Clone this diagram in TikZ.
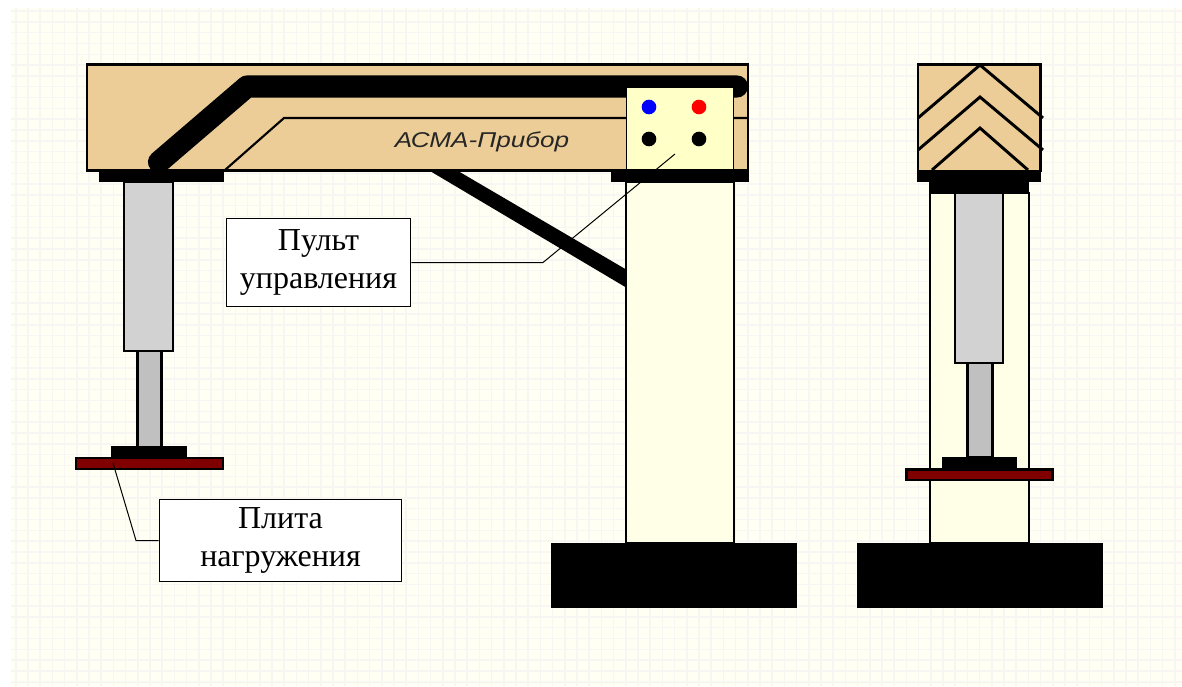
\documentclass[tikz,border=0pt]{standalone}
\usepackage{fontspec}
\setmainfont{Liberation Serif}
\newfontfamily\brandfont{Liberation Sans}
\definecolor{paper}{HTML}{FFFFF3}
\definecolor{gridc}{HTML}{F7F6F2}
\definecolor{wood}{HTML}{EDCD97}
\definecolor{cream}{HTML}{FFFFE8}
\definecolor{panelc}{HTML}{FFFFC8}
\definecolor{steel}{HTML}{D2D2D2}
\definecolor{rodc}{HTML}{C0C0C0}
\definecolor{plate}{HTML}{800000}
\tikzset{
  x=0.75pt,y=-0.75pt,
  part/.style={draw=black,line width=1.8pt,line join=miter},
  solid black/.style={fill=black},
  chevron/.style={draw=black,line width=2.2pt},
  callout/.style={draw=black,fill=white,line width=0.75pt,align=center,inner sep=0pt,
     font=\fontsize{24}{28.5}\selectfont},
  leader/.style={draw=black,line width=0.75pt},
  lamp/.style={circle,minimum size=11pt,inner sep=0pt}
}
\begin{document}
\begin{tikzpicture}
\useasboundingbox (0,0) rectangle (1182,686);
\fill[paper] (11,8) rectangle (1182,686);
\foreach \k in {0,...,95}{\draw[gridc,line width=1.1pt] ({15.8+12.2*\k},8) -- ({15.8+12.2*\k},686);}
\foreach \k in {0,...,62}{\draw[gridc,line width=1.1pt] (11,{11+10.82*\k}) -- (1182,{11+10.82*\k});}
% front view
\fill[black] (430,171) -- (458,171) -- (627,270) -- (627,288) -- cycle;
\draw[part,fill=cream] (626,182) rectangle (734,543);
\draw[part,fill=wood] (87,64.5) rectangle (748,170.5);
\begin{scope}
\clip (87,64) rectangle (748,170.5);
\draw[black,line width=16.6pt,line cap=round,line join=round] (159,162) -- (247,86.5) -- (737,86.5);
\end{scope}
\draw[black,line width=1.6pt] (225,170) -- (284,118) -- (748,118);
\draw[part,fill=panelc,line width=1.2pt] (626.5,87) rectangle (733.5,169.5);
\node[lamp,fill=blue] (l1) at (649,107) {};
\node[lamp,fill=red] (l2) at (699,107) {};
\node[lamp,fill=black] (l3) at (649,139) {};
\node[lamp,fill=black] (l4) at (699,139) {};
\node[font=\brandfont\itshape\fontsize{19.6}{21}\selectfont,text=black!85,inner sep=0pt] (brand) at (482,142) {\scalebox{1}[0.82]{АСМА-Прибор}};
\fill[solid black] (99,170) rectangle (224,182);
\fill[solid black] (611,170) rectangle (749,182);
\draw[part,fill=steel] (124,182) rectangle (173,351);
\draw[part,fill=rodc] (137.5,351) rectangle (161.5,447);
\fill[solid black] (111,446) rectangle (187,457);
\draw[part,fill=plate] (76,458) rectangle (223,469);
\fill[solid black] (551,543) rectangle (797,608);
% side view
\draw[part,fill=cream] (930,193) rectangle (1029,543);
\draw[part,fill=wood] (918,64.5) rectangle (1040.5,171);
\draw[chevron] (918,118) -- (980,65) -- (1043,118);
\draw[chevron] (918,150) -- (980,97) -- (1043,150);
\draw[chevron] (932,170) -- (980,128) -- (1028,170);
\fill[solid black] (917,170) rectangle (1041,182);
\fill[solid black] (929,182) rectangle (1029,193);
\draw[part,fill=steel] (955,193) rectangle (1003,363);
\draw[part,fill=rodc] (967.5,363) rectangle (992.5,457);
\fill[solid black] (942,457) rectangle (1017,469);
\draw[part,fill=plate] (906.5,469.5) rectangle (1052.5,480);
\fill[solid black] (857,543) rectangle (1103,608);
% callouts
\node[callout,minimum width=138.5pt,minimum height=66pt] (pult) at (318.5,262.5) {Пульт\\управления};
\node[callout,minimum width=182pt,minimum height=61.5pt] (plita) at (280.5,540.5) {Плита\\нагружения};
\coordinate (pultend) at (675,154);
\coordinate (pultbend) at (543,262.5);
\coordinate (plitaend) at (113,463);
\coordinate (plitabend) at (136,540.5);
\draw[leader] (pult.east) -- (pultbend) -- (pultend);
\draw[leader] (plita.west) -- (plitabend) -- (plitaend);
\end{tikzpicture}
\end{document}
